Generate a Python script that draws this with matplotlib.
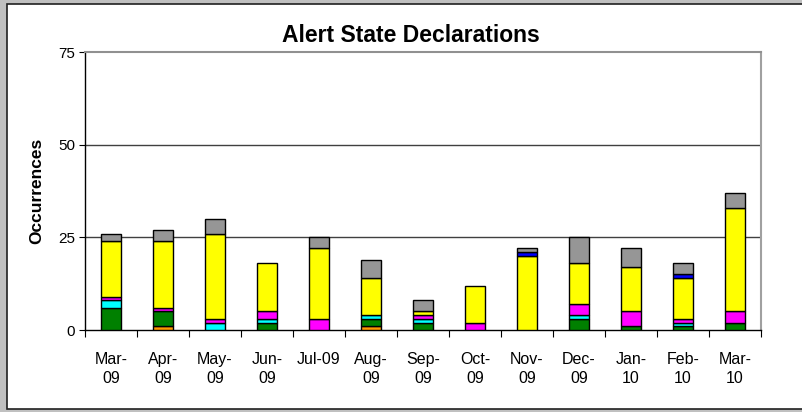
import numpy as np
import matplotlib
matplotlib.use('Agg')
import matplotlib.pyplot as plt
from matplotlib.patches import Rectangle

plt.rcParams['font.family'] = ['Liberation Sans', 'DejaVu Sans']

months = ['Mar-\n09', 'Apr-\n09', 'May-\n09', 'Jun-\n09', 'Jul-09', 'Aug-\n09', 'Sep-\n09',
          'Oct-\n09', 'Nov-\n09', 'Dec-\n09', 'Jan-\n10', 'Feb-\n10', 'Mar-\n10']

# stacked from the bottom up
orange = [0, 1, 0, 0, 0, 1, 0, 0, 0, 0, 0, 0, 0]
green = [6, 4, 0, 2, 0, 2, 2, 0, 0, 3, 1, 1, 2]
cyan = [2, 0, 2, 1, 0, 1, 1, 0, 0, 1, 0, 1, 0]
magenta = [1, 1, 1, 2, 3, 0, 1, 2, 0, 3, 4, 1, 3]
yellow = [15, 18, 23, 13, 19, 10, 1, 10, 20, 11, 12, 11, 28]
blue = [0, 0, 0, 0, 0, 0, 0, 0, 1, 0, 0, 1, 0]
gray = [2, 3, 4, 0, 3, 5, 3, 0, 1, 7, 5, 3, 4]

series = [(orange, '#ff9900'), (green, '#008000'), (cyan, '#00ffff'),
          (magenta, '#ff00ff'), (yellow, '#ffff00'), (blue, '#0000ff'),
          (gray, '#969696')]

fig = plt.figure(figsize=(8.03, 4.12), dpi=100)
fig.patch.set_facecolor('#c0c0c0')
frame = Rectangle((7 / 803, 3 / 412), 1.0, 405 / 412, transform=fig.transFigure,
                  facecolor='white', edgecolor='#202020', linewidth=1.2, zorder=-10)
fig.patches.append(frame)

ax = fig.add_axes([85 / 803, 1 - 330 / 412, 676 / 803, 278 / 412])
ax.set_zorder(5)
ax.patch.set_alpha(0)
x = np.arange(len(months))
bottom = np.zeros(len(months))
for vals, col in series:
    v = np.array(vals, dtype=float)
    mask = v > 0
    ax.bar(x[mask], v[mask], 0.4, bottom=bottom[mask], color=col,
           edgecolor='black', linewidth=1.0, zorder=3)
    bottom += v

ax.set_xlim(-0.5, len(months) - 0.5)
ax.set_ylim(0, 75)
ax.set_yticks([0, 25, 50, 75])
ax.tick_params(axis='y', direction='out', length=4, width=0.8, labelsize=11, pad=3)
ax.set_xticks(x)
ax.set_xticklabels(months, fontsize=11.5, linespacing=1.3)
ax.tick_params(axis='x', which='major', length=0, pad=16)
ax.set_xticks(np.arange(-0.5, len(months)), minor=True)
ax.tick_params(axis='x', which='minor', direction='out', length=5, width=0.8)

for yv in [25, 50]:
    ax.axhline(yv, color='#404040', linewidth=1.0, zorder=1)
ax.spines['top'].set_color('#909090')
ax.spines['top'].set_linewidth(1.5)
ax.spines['right'].set_color('#a0a0a0')
ax.spines['right'].set_linewidth(1.5)
ax.spines['left'].set_linewidth(1.0)
ax.spines['bottom'].set_linewidth(1.0)

ax.set_ylabel('Occurrences', fontsize=12.5, fontweight='bold', labelpad=10)
fig.text(411 / 803, 1 - 36 / 412, 'Alert State Declarations', fontsize=16.5,
         fontweight='bold', ha='center', va='center')

fig.savefig('out.png', dpi=100, facecolor=fig.get_facecolor())
